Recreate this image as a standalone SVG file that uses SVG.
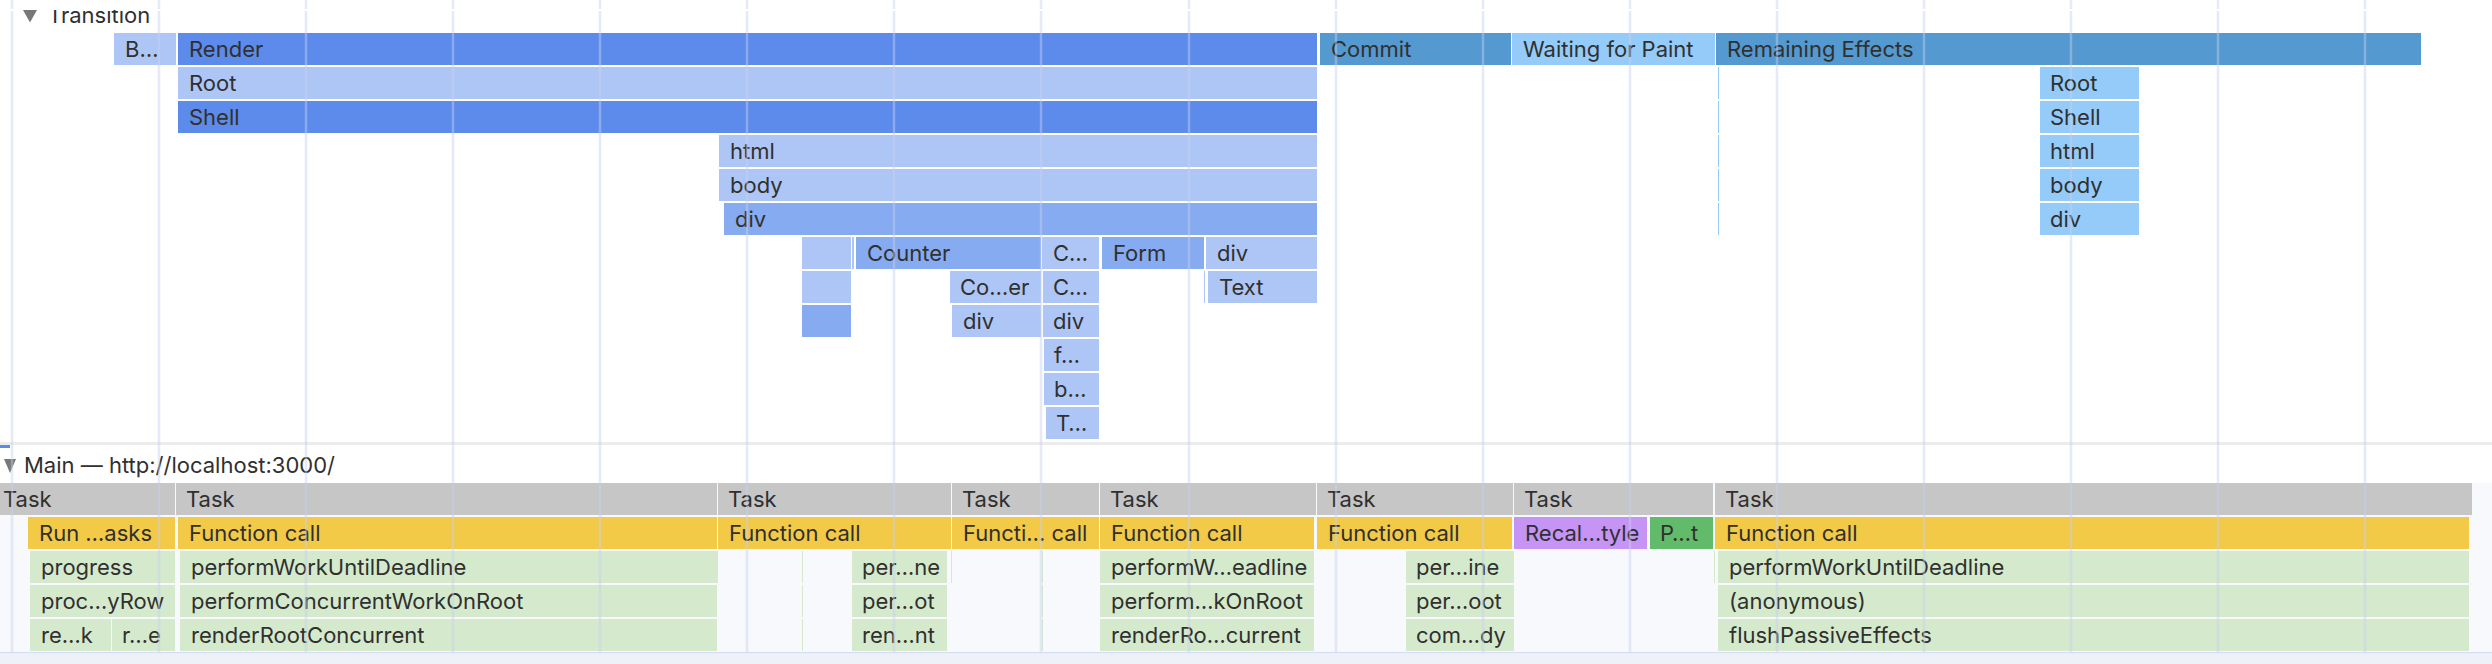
<svg xmlns="http://www.w3.org/2000/svg" width="2492" height="664" viewBox="0 0 2492 664">
<style>
text{font-family:Inter,"Liberation Sans",sans-serif;font-size:22px;fill:#303030}
.lt{fill:#aec6f5}.dk{fill:#5c8beb}.md{fill:#86abf0}.st{fill:#5499d0}.sk{fill:#94cbf8}
.tk{fill:#c6c6c6}.fc{fill:#f2ca47}.gr{fill:#d5eacc}.pu{fill:#c694f4}.pg{fill:#62bb6a}
.grid line{stroke:#c8d0f0;stroke-opacity:0.45;stroke-width:2.5}
</style>
<rect width="2492" height="664" fill="#ffffff"/>
<g id="transition-track">
<g id="transition-header">
<text x="48" y="23">Transition</text>
<rect x="0" y="0" width="2492" height="10" fill="#ffffff"/>
<polygon points="23,10 37,10 30,22.5" fill="#787878"/>
</g>
<g id="row0">
<rect class="lt" x="114" y="33" width="62" height="32"/><text x="125" y="57">B…</text>
<rect class="dk" x="178" y="33" width="1139" height="32"/><text x="189" y="57">Render</text>
<rect class="st" x="1320" y="33" width="191" height="32"/><text x="1331" y="57">Commit</text>
<rect class="sk" x="1512" y="33" width="203" height="32"/><text x="1523" y="57">Waiting for Paint</text>
<rect class="st" x="1716" y="33" width="705" height="32"/><text x="1727" y="57">Remaining Effects</text>
</g>
<g id="row1">
<rect class="lt" x="178" y="67" width="1139" height="32"/><text x="189" y="91">Root</text>
<rect class="sk" x="1718" y="67" width="1" height="32"/>
<rect class="sk" x="2040" y="67" width="99" height="32"/><text x="2050" y="91">Root</text>
</g>
<g id="row2">
<rect class="dk" x="178" y="101" width="1139" height="32"/><text x="189" y="125">Shell</text>
<rect class="sk" x="1718" y="101" width="1" height="32"/>
<rect class="sk" x="2040" y="101" width="99" height="32"/><text x="2050" y="125">Shell</text>
</g>
<g id="row3">
<rect class="lt" x="719" y="135" width="598" height="32"/><text x="730" y="159">html</text>
<rect class="sk" x="1718" y="135" width="1" height="32"/>
<rect class="sk" x="2040" y="135" width="99" height="32"/><text x="2050" y="159">html</text>
</g>
<g id="row4">
<rect class="lt" x="719" y="169" width="598" height="32"/><text x="730" y="193">body</text>
<rect class="sk" x="1718" y="169" width="1" height="32"/>
<rect class="sk" x="2040" y="169" width="99" height="32"/><text x="2050" y="193">body</text>
</g>
<g id="row5">
<rect class="md" x="724" y="203" width="593" height="32"/><text x="735" y="227">div</text>
<rect class="sk" x="1718" y="203" width="1" height="32"/>
<rect class="sk" x="2040" y="203" width="99" height="32"/><text x="2050" y="227">div</text>
</g>
<g id="row6">
<rect class="lt" x="802" y="237" width="49" height="32"/>
<rect class="lt" x="852" y="237" width="2" height="32"/>
<rect class="md" x="856" y="237" width="185" height="32"/><text x="867" y="261">Counter</text>
<rect class="lt" x="1042" y="237" width="57" height="32"/><text x="1053" y="261">C…</text>
<rect class="md" x="1102" y="237" width="102" height="32"/><text x="1113" y="261">Form</text>
<rect class="lt" x="1206" y="237" width="111" height="32"/><text x="1217" y="261">div</text>
</g>
<g id="row7">
<rect class="lt" x="802" y="271" width="49" height="32"/>
<rect class="lt" x="950" y="271" width="91" height="32"/><text x="960" y="295">Co…er</text>
<rect class="lt" x="1043" y="271" width="56" height="32"/><text x="1053" y="295">C…</text>
<rect class="lt" x="1204" y="271" width="1" height="32"/>
<rect class="lt" x="1208" y="271" width="109" height="32"/><text x="1219" y="295">Text</text>
</g>
<g id="row8">
<rect class="md" x="802" y="305" width="49" height="32"/>
<rect class="lt" x="952" y="305" width="89" height="32"/><text x="963" y="329">div</text>
<rect class="lt" x="1043" y="305" width="56" height="32"/><text x="1053" y="329">div</text>
</g>
<g id="row9">
<rect class="lt" x="1044" y="339" width="55" height="32"/><text x="1054" y="363">f…</text>
</g>
<g id="row10">
<rect class="lt" x="1044" y="373" width="55" height="32"/><text x="1054" y="397">b…</text>
</g>
<g id="row11">
<rect class="lt" x="1046" y="407" width="53" height="32"/><text x="1056" y="431">T…</text>
</g>
</g>
<g id="main-track">
<rect x="0" y="442" width="2492" height="3" fill="#ececec"/>
<rect x="0" y="445" width="10" height="3" fill="#5c8beb"/>
<g id="main-header">
<polygon points="4,459 16,459 10,473" fill="#787878"/>
<text x="24" y="473">Main — http://localhost:3000/</text>
</g>
<rect x="0" y="483" width="2492" height="169" fill="#f8f9fd"/>
<g id="task-row">
<rect class="tk" x="0" y="483" width="175" height="32"/><text x="3" y="507">Task</text>
<rect class="tk" x="176" y="483" width="541" height="32"/><text x="186" y="507">Task</text>
<rect class="tk" x="718" y="483" width="233" height="32"/><text x="728" y="507">Task</text>
<rect class="tk" x="952" y="483" width="147" height="32"/><text x="962" y="507">Task</text>
<rect class="tk" x="1100" y="483" width="216" height="32"/><text x="1110" y="507">Task</text>
<rect class="tk" x="1317" y="483" width="196" height="32"/><text x="1327" y="507">Task</text>
<rect class="tk" x="1514" y="483" width="199" height="32"/><text x="1524" y="507">Task</text>
<rect class="tk" x="1715" y="483" width="755" height="32"/><text x="1725" y="507">Task</text>
<rect class="tk" x="2470" y="483" width="2" height="32"/>
</g>
<g id="function-row">
<rect class="fc" x="28" y="517" width="147" height="32"/><text x="39" y="541">Run …asks</text>
<rect class="fc" x="178" y="517" width="539" height="32"/><text x="189" y="541">Function call</text>
<rect class="fc" x="718" y="517" width="233" height="32"/><text x="729" y="541">Function call</text>
<rect class="fc" x="952" y="517" width="147" height="32"/><text x="963" y="541">Functi… call</text>
<rect class="fc" x="1100" y="517" width="214" height="32"/><text x="1111" y="541">Function call</text>
<rect class="fc" x="1317" y="517" width="195" height="32"/><text x="1328" y="541">Function call</text>
<rect class="pu" x="1514" y="517" width="133" height="32"/><text x="1525" y="541">Recal…tyle</text>
<rect class="pg" x="1650" y="517" width="63" height="32"/><text x="1660" y="541">P…t</text>
<rect class="fc" x="1715" y="517" width="754" height="32"/><text x="1726" y="541">Function call</text>
</g>
<g id="green-row1">
<rect class="gr" x="30" y="551" width="145" height="32"/><text x="41" y="575">progress</text>
<rect class="gr" x="180" y="551" width="538" height="32"/><text x="191" y="575">performWorkUntilDeadline</text>
<rect class="gr" x="802" y="551" width="1" height="32"/>
<rect class="gr" x="852" y="551" width="95" height="32"/><text x="862" y="575">per…ne</text>
<rect class="gr" x="951" y="551" width="1" height="32"/>
<rect class="gr" x="1042" y="551" width="1" height="32"/>
<rect class="gr" x="1100" y="551" width="214" height="32"/><text x="1111" y="575">performW…eadline</text>
<rect class="gr" x="1406" y="551" width="108" height="32"/><text x="1416" y="575">per…ine</text>
<rect class="gr" x="1714" y="551" width="1" height="32"/>
<rect class="gr" x="1718" y="551" width="751" height="32"/><text x="1729" y="575">performWorkUntilDeadline</text>
</g>
<g id="green-row2">
<rect class="gr" x="30" y="585" width="145" height="32"/><text x="41" y="609">proc…yRow</text>
<rect class="gr" x="180" y="585" width="537" height="32"/><text x="191" y="609">performConcurrentWorkOnRoot</text>
<rect class="gr" x="802" y="585" width="1" height="32"/>
<rect class="gr" x="852" y="585" width="95" height="32"/><text x="862" y="609">per…ot</text>
<rect class="gr" x="1042" y="585" width="1" height="32"/>
<rect class="gr" x="1100" y="585" width="214" height="32"/><text x="1111" y="609">perform…kOnRoot</text>
<rect class="gr" x="1406" y="585" width="108" height="32"/><text x="1416" y="609">per…oot</text>
<rect class="gr" x="1718" y="585" width="751" height="32"/><text x="1729" y="609">(anonymous)</text>
</g>
<g id="green-row3">
<rect class="gr" x="30" y="619" width="81" height="32"/><text x="41" y="643">re…k</text>
<rect class="gr" x="112" y="619" width="63" height="32"/><text x="122" y="643">r…e</text>
<rect class="gr" x="180" y="619" width="537" height="32"/><text x="191" y="643">renderRootConcurrent</text>
<rect class="gr" x="802" y="619" width="1" height="32"/>
<rect class="gr" x="852" y="619" width="95" height="32"/><text x="862" y="643">ren…nt</text>
<rect class="gr" x="1042" y="619" width="1" height="32"/>
<rect class="gr" x="1100" y="619" width="214" height="32"/><text x="1111" y="643">renderRo…current</text>
<rect class="gr" x="1406" y="619" width="108" height="32"/><text x="1416" y="643">com…dy</text>
<rect class="gr" x="1718" y="619" width="751" height="32"/><text x="1729" y="643">flushPassiveEffects</text>
</g>
<rect x="0" y="652" width="2492" height="1.5" fill="#d3dcf3"/>
<rect x="0" y="653.5" width="2492" height="10.5" fill="#eef1f8"/>
</g>
<g id="connectors" class="grid">
<line x1="12" y1="0" x2="12" y2="9"/><line x1="12" y1="11" x2="12" y2="652"/>
<line x1="159" y1="0" x2="159" y2="9"/><line x1="159" y1="11" x2="159" y2="652"/>
<line x1="306" y1="0" x2="306" y2="9"/><line x1="306" y1="11" x2="306" y2="652"/>
<line x1="453" y1="0" x2="453" y2="9"/><line x1="453" y1="11" x2="453" y2="652"/>
<line x1="600" y1="0" x2="600" y2="9"/><line x1="600" y1="11" x2="600" y2="652"/>
<line x1="747" y1="0" x2="747" y2="9"/><line x1="747" y1="11" x2="747" y2="652"/>
<line x1="894" y1="0" x2="894" y2="9"/><line x1="894" y1="11" x2="894" y2="652"/>
<line x1="1041" y1="0" x2="1041" y2="9"/><line x1="1041" y1="11" x2="1041" y2="652"/>
<line x1="1189" y1="0" x2="1189" y2="9"/><line x1="1189" y1="11" x2="1189" y2="652"/>
<line x1="1336" y1="0" x2="1336" y2="9"/><line x1="1336" y1="11" x2="1336" y2="652"/>
<line x1="1483" y1="0" x2="1483" y2="9"/><line x1="1483" y1="11" x2="1483" y2="652"/>
<line x1="1630" y1="0" x2="1630" y2="9"/><line x1="1630" y1="11" x2="1630" y2="652"/>
<line x1="1777" y1="0" x2="1777" y2="9"/><line x1="1777" y1="11" x2="1777" y2="652"/>
<line x1="1924" y1="0" x2="1924" y2="9"/><line x1="1924" y1="11" x2="1924" y2="652"/>
<line x1="2071" y1="0" x2="2071" y2="9"/><line x1="2071" y1="11" x2="2071" y2="652"/>
<line x1="2218" y1="0" x2="2218" y2="9"/><line x1="2218" y1="11" x2="2218" y2="652"/>
<line x1="2365" y1="0" x2="2365" y2="9"/><line x1="2365" y1="11" x2="2365" y2="652"/>
</g>
</svg>
